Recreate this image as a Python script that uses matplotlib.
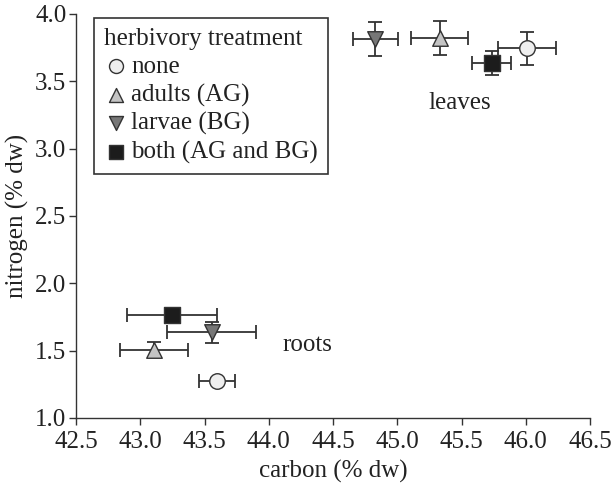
import matplotlib
matplotlib.use("Agg")
import matplotlib.pyplot as plt

plt.rcParams['font.family'] = ['Liberation Serif', 'DejaVu Serif']

treatments = ["none", "adults (AG)", "larvae (BG)", "both (AG and BG)"]
markers = ["o", "^", "v", "s"]
faces = ["#eeeeee", "#c4c4c4", "#777777", "#1c1c1c"]

# leaves
leaf_c = [46.01, 45.33, 44.83, 45.735]
leaf_c_err = [0.225, 0.22, 0.175, 0.15]
leaf_n = [3.745, 3.82, 3.815, 3.634]
leaf_n_err = [0.125, 0.125, 0.125, 0.09]

# roots
root_c = [43.60, 43.11, 43.556, 43.25]
root_c_err = [0.14, 0.265, 0.345, 0.35]
root_n = [1.278, 1.506, 1.635, 1.765]
root_n_err = [0.02, 0.055, 0.08, 0.03]

xticks = [42.5, 43.0, 43.5, 44.0, 44.5, 45.0, 45.5, 46.0, 46.5]
yticks = [1.0, 1.5, 2.0, 2.5, 3.0, 3.5, 4.0]

fig = plt.figure(figsize=(6.12, 4.84), dpi=100)
ax = fig.add_axes([76/612, 1-418/484, (590-76)/612, (418-14)/484])

ec = "#333333"
fs = 18
tc = "#222222"
handles = []
for i in range(4):
    for cx, cxe, ny, nye in [(leaf_c, leaf_c_err, leaf_n, leaf_n_err),
                             (root_c, root_c_err, root_n, root_n_err)]:
        ax.errorbar(cx[i], ny[i], xerr=cxe[i], yerr=nye[i], fmt='none',
                    ecolor=ec, elinewidth=1.3, capsize=5, capthick=1.3, zorder=2)
    h = ax.scatter([leaf_c[i], root_c[i]], [leaf_n[i], root_n[i]],
                   marker=markers[i], s=125, facecolor=faces[i],
                   edgecolor=ec, linewidth=1.0, zorder=3, label=treatments[i])
    handles.append(h)

ax.set_xlim(42.5, 46.5)
ax.set_ylim(1.0, 4.0)
ax.set_xticks(xticks)
ax.set_yticks(yticks)
ax.set_xticklabels([f"{v:.1f}" for v in xticks])
ax.set_yticklabels([f"{v:.1f}" for v in yticks])
for s in ["top", "right"]:
    ax.spines[s].set_visible(False)
for s in ["left", "bottom"]:
    ax.spines[s].set_color("#333333")
    ax.spines[s].set_linewidth(1.0)
ax.tick_params(direction='out', length=5, width=1.0, color="#333333",
               labelsize=fs, labelcolor=tc)
ax.tick_params(axis='x', pad=4)
ax.tick_params(axis='y', pad=2)
ax.set_xlabel("carbon (% dw)", fontsize=fs, color=tc, labelpad=5)
ax.set_ylabel("nitrogen (% dw)", fontsize=fs, color=tc, labelpad=4)

ax.text(45.49, 3.34, "leaves", fontsize=fs, color=tc, ha='center', va='center')
ax.text(44.30, 1.54, "roots", fontsize=fs, color=tc, ha='center', va='center')

leg = ax.legend(handles=handles, title="herbivory treatment", loc='upper left',
                bbox_to_anchor=(0.035, 0.99), borderaxespad=0, fontsize=fs,
                title_fontsize=fs, frameon=True, fancybox=False, edgecolor="#333333",
                handletextpad=0.1, handlelength=1.0, borderpad=0.4,
                labelspacing=0.22, alignment='left', scatterpoints=1,
                markerscale=0.9, framealpha=1)
leg.get_frame().set_linewidth(1.2)
for t in leg.get_texts():
    t.set_color(tc)
leg.get_title().set_color(tc)

fig.savefig("out.png", dpi=100)
